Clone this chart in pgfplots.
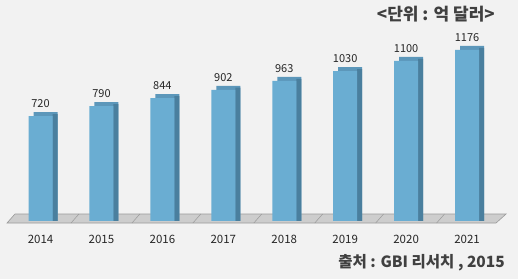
\documentclass[border=0pt]{standalone}
\usepackage{pgfplots}
\pgfplotsset{compat=1.18}
\usepackage{pgfplotstable}
\usepackage{fontspec}
\setmainfont{Noto Sans CJK KR}
\definecolor{bgc}{HTML}{F2F2F2}
\definecolor{front}{HTML}{6AADD2}
\definecolor{topc}{HTML}{5C97BA}
\definecolor{side}{HTML}{4A7F9E}
\definecolor{floorc}{HTML}{CDCDCD}
\definecolor{floore}{HTML}{9A9A9A}
\definecolor{txt}{HTML}{262626}
\pgfplotstableread{
x v
0 720
1 790
2 844
3 902
4 963
5 1030
6 1100
7 1176
}\data
\begin{document}
\begin{tikzpicture}[x=1pt,y=1pt]
\fill[bgc] (0,0) rectangle (518,279);
\begin{axis}[
  at={(0pt,58pt)}, anchor=south west,
  scale only axis, width=518pt, height=221pt,
  xmin=-0.665, xmax=7.836, ymin=0, ymax=1519,
  clip=false,
  axis x line=bottom, axis y line=left,
  axis line style={draw=none,-},
  ytick=\empty,
  xtick={0,...,7},
  xticklabels={2014,2015,2016,2017,2018,2019,2020,2021},
  xtick style={draw=none},
  xticklabel style={inner sep=0pt, yshift=-12pt, font=\fontsize{11.5}{13}\selectfont, text=txt},
]
% floor
\addplot[fill=floorc, draw=floore, line width=0.6pt] coordinates {(-0.55,-14) (7.475,-14) (7.64,48) (-0.42,48)} -- cycle;
\addplot[draw=floore, line width=0.5pt] coordinates {(0.5,-14) (0.63,48)};
\addplot[draw=floore, line width=0.5pt] coordinates {(1.5,-14) (1.63,48)};
\addplot[draw=floore, line width=0.5pt] coordinates {(2.5,-14) (2.63,48)};
\addplot[draw=floore, line width=0.5pt] coordinates {(3.5,-14) (3.63,48)};
\addplot[draw=floore, line width=0.5pt] coordinates {(4.5,-14) (4.63,48)};
\addplot[draw=floore, line width=0.5pt] coordinates {(5.5,-14) (5.63,48)};
\addplot[draw=floore, line width=0.5pt] coordinates {(6.5,-14) (6.63,48)};
% back (top face)
\addplot[ybar, bar width=24pt, bar shift=5pt, fill=topc, draw=none] table[x=x, y expr=\thisrow{v}+27.5] {\data};
% side face
\addplot[ybar, bar width=5pt, bar shift=14.5pt, fill=side, draw=none] table[x=x, y expr=\thisrow{v}+14] {\data};
% front
\addplot[ybar, bar width=24pt, bar shift=0pt, fill=front, draw=none,
  point meta=explicit symbolic,
  nodes near coords={\pgfplotspointmeta},
  every node near coord/.append style={anchor=south, inner sep=0pt, yshift=8pt, font=\fontsize{11}{13}\selectfont, text=txt}
] table[x=x, y=v, meta=v] {\data};
\end{axis}
\node[anchor=base east, inner sep=0pt, text=black!75, font=\bfseries\fontsize{17}{19}\selectfont] at (495,258) {<단위 : 억 달러>};
\node[anchor=base east, inner sep=0pt, text=black!75, font=\bfseries\fontsize{15.5}{18}\selectfont] at (505,11) {출처 : GBI 리서치 , 2015};
\end{tikzpicture}
\end{document}
